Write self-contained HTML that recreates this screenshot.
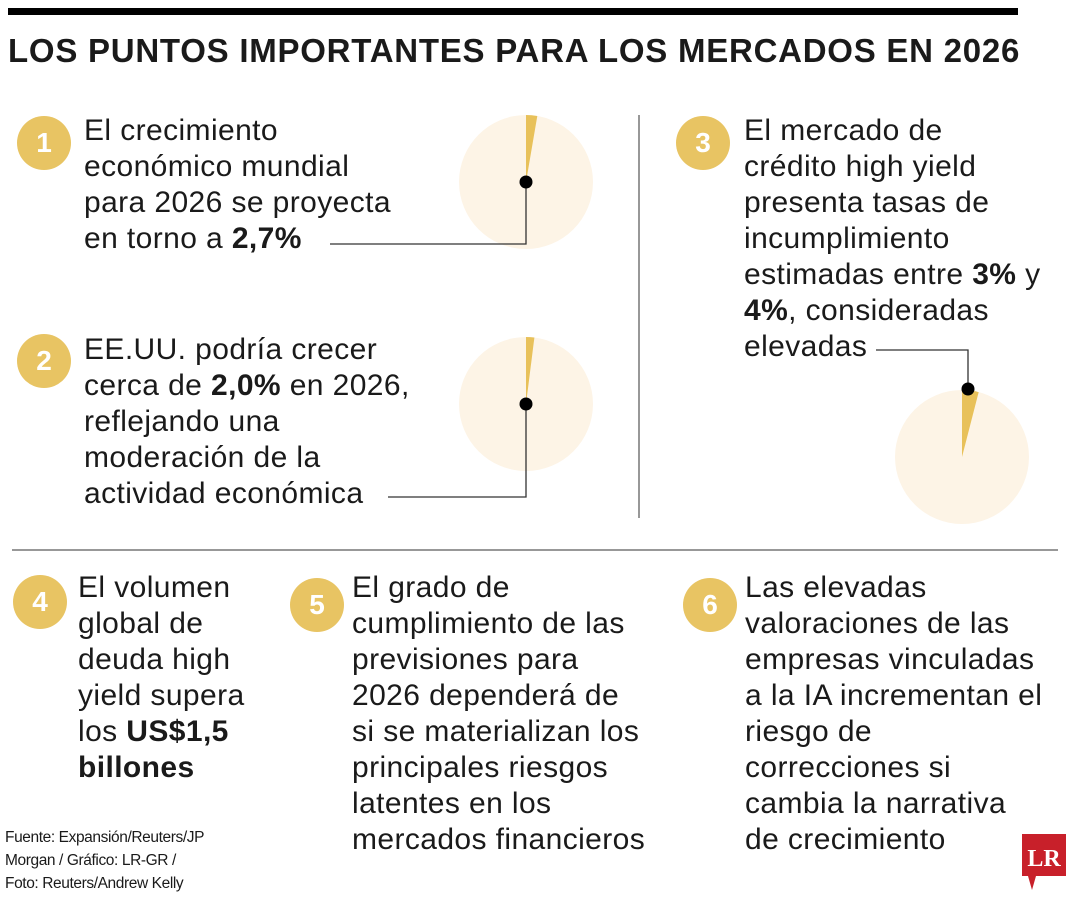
<!DOCTYPE html>
<html><head><meta charset="utf-8"><style>
body{margin:0;width:1080px;height:900px;background:#fff;position:relative;overflow:hidden;font-family:"Liberation Sans",sans-serif;color:#1a1a1a}
.t{position:absolute;font-size:30px;line-height:36px;white-space:nowrap;letter-spacing:0.4px}
.n{position:absolute;width:54px;height:54px;border-radius:50%;background:#e8c463;color:#fff;font-weight:bold;font-size:28px;text-align:center;line-height:54px}
b{font-weight:bold}
</style></head><body>
<div style="position:absolute;left:8px;top:8px;width:1010px;height:7px;background:#000"></div>
<div style="position:absolute;left:8px;top:32px;font-size:33px;font-weight:bold;letter-spacing:0.75px;white-space:nowrap">LOS PUNTOS IMPORTANTES PARA LOS MERCADOS EN 2026</div>
<svg id="pies" width="1080" height="900" style="position:absolute;left:0;top:0">
<line x1="639" y1="115" x2="639" y2="518" stroke="#777" stroke-width="1.5"/>
<line x1="12" y1="550" x2="1058" y2="550" stroke="#777" stroke-width="1.5"/>
</svg>
<div class="n" style="left:17px;top:116px">1</div>
<div class="t" style="left:84px;top:113px">El crecimiento<br>económico mundial<br>para 2026 se proyecta<br>en torno a <b>2,7%</b></div>
<div class="n" style="left:17px;top:334px">2</div>
<div class="t" style="left:84px;top:332px">EE.UU. podría crecer<br>cerca de <b>2,0%</b> en 2026,<br>reflejando una<br>moderación de la<br>actividad económica</div>
<div class="n" style="left:676px;top:116px">3</div>
<div class="t" style="left:744px;top:113px">El mercado de<br>crédito high yield<br>presenta tasas de<br>incumplimiento<br>estimadas entre <b>3%</b> y<br><b>4%</b>, consideradas<br>elevadas</div>
<div class="n" style="left:13px;top:575px">4</div>
<div class="t" style="left:78px;top:570px">El volumen<br>global de<br>deuda high<br>yield supera<br>los <b>US$1,5<br>billones</b></div>
<div class="n" style="left:290px;top:578px">5</div>
<div class="t" style="left:352px;top:570px">El grado de<br>cumplimiento de las<br>previsiones para<br>2026 dependerá de<br>si se materializan los<br>principales riesgos<br>latentes en los<br>mercados financieros</div>
<div class="n" style="left:683px;top:578px">6</div>
<div class="t" style="left:745px;top:570px">Las elevadas<br>valoraciones de las<br>empresas vinculadas<br>a la IA incrementan el<br>riesgo de<br>correcciones si<br>cambia la narrativa<br>de crecimiento</div>
<div style="position:absolute;left:5px;top:826px;font-size:15.5px;line-height:23px;letter-spacing:-0.4px;white-space:nowrap">Fuente: Expansión/Reuters/JP<br>Morgan / Gráfico: LR-GR /<br>Foto: Reuters/Andrew Kelly</div>
<svg style="position:absolute;left:1020px;top:832px" width="50" height="60"><path d="M2 2h44v42H16L12 58 8 44H2z" fill="#c8202a"/><text x="24" y="34" text-anchor="middle" font-family="Liberation Serif" font-weight="bold" font-size="24" fill="#fff">LR</text></svg>
<script>
const pieLabels=["crecimiento-mundial","crecimiento-eeuu","incumplimiento-high-yield"];
const pieValues=[2.7,2.0,4];
const pieCx=[526,526,962], pieCy=[182,404,457];
const svg=document.getElementById('pies');const NS="http://www.w3.org/2000/svg";
function mk(t,a){const e=document.createElementNS(NS,t);for(const k in a)e.setAttribute(k,a[k]);svg.appendChild(e);return e;}
const R=67;
pieValues.forEach((v,i)=>{
 const cx=pieCx[i],cy=pieCy[i];
 const c=mk('circle',{cx,cy,r:R,fill:'#fdf4e6'});
 
 
 const a=v/100*2*Math.PI;
 const x=cx+R*Math.sin(a),y=cy-R*Math.cos(a);
 const w=mk('path',{d:`M${cx},${cy}L${cx},${cy-R}A${R},${R} 0 0 1 ${x},${y}Z`,fill:'#e8c15a'});
 
 
});
mk('polyline',{points:'330,244 526,244 526,182',fill:'none',stroke:'#333','stroke-width':1.3});
mk('polyline',{points:'388,497 526,497 526,404',fill:'none',stroke:'#333','stroke-width':1.3});
mk('polyline',{points:'876,350 968,350 968,389',fill:'none',stroke:'#333','stroke-width':1.3});
[[526,182],[526,404],[968,389]].forEach((p,i)=>{const d=mk('circle',{cx:p[0],cy:p[1],r:6.5,fill:'#000'});

});
</script>
</body></html>
